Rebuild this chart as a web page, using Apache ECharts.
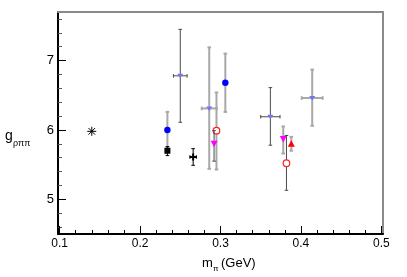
<!DOCTYPE html>
<html><head><meta charset="utf-8">
<script src="https://cdn.jsdelivr.net/npm/echarts@6/dist/echarts.min.js"></script>
<style>html,body{margin:0;padding:0;background:#fff}#c{width:407px;height:277px}</style>
</head><body><div id="c"></div>
<script>
// Tick labels
const xTickLabels = [0.1, 0.2, 0.3, 0.4, 0.5];
const yTickLabels = [5, 6, 7];
// Each point: [m_pi (GeV), g_rho_pi_pi, errDown, errUp, xErr]
const physicalPoint = [[0.140, 5.98, 0, 0, 0]];
const blueCircles   = [[0.234, 6.00, 0.25, 0.26, 0], [0.306, 6.68, 0.42, 0.42, 0]];
const blackSquares  = [[0.234, 5.70, 0.07, 0.06, 0]];
const blackCrosses  = [[0.266, 5.61, 0.12, 0.12, 0.004]];
const lilacDark     = [[0.250, 6.78, 0.67, 0.67, 0.0085], [0.362, 6.19, 0.41, 0.42, 0.012]];
const lilacLight    = [[0.286, 6.31, 0.87, 0.88, 0.0093], [0.414, 6.46, 0.40, 0.41, 0.013]];
const redOpenLight  = [[0.295, 5.99, 0.56, 0.55, 0]];
const redOpenDark   = [[0.382, 5.52, 0.39, 0.40, 0]];
const magentaDark   = [[0.292, 5.80, 0.25, 0.19, 0]];
const magentaLight  = [[0.378, 5.87, 0.21, 0.18, 0]];
const redFilled     = [[0.388, 5.80, 0.10, 0.10, 0]];

const X_MIN = 0.098, X_MAX = 0.502, Y_MIN = 4.5, Y_MAX = 7.7;
const FONT = 'Liberation Sans, Arial, Helvetica, sans-serif';

function minorTicks(lo, hi, step, majors) {
  const out = [];
  for (let i = Math.ceil(lo / step - 1e-9); i * step <= hi + 1e-9; i++) {
    const v = Math.round(i * step * 1000) / 1000;
    if (!majors.some(m => Math.abs(m - v) < 1e-6)) out.push(v);
  }
  return out;
}
const xMinor = minorTicks(0.1, 0.5, 0.02, xTickLabels);
const yMinor = minorTicks(4.6, 7.6, 0.2, yTickLabels);

const DARK = {color: '#4a4a4a', width: 1};
const LIGHT = {color: '#a8a8a8', width: 2};

function markerShape(kind, p) {
  const [cx, cy] = p;
  switch (kind) {
    case 'asterisk': {
      const r = 4.5, d = 3.3;
      return [[-r,0,r,0],[0,-r,0,r],[-d,-d,d,d],[-d,d,d,-d]].map(s => ({
        type: 'line', shape: {x1: cx+s[0], y1: cy+s[1], x2: cx+s[2], y2: cy+s[3]},
        style: {stroke: '#000', lineWidth: 1}
      }));
    }
    case 'blueCircle':
      return [{type: 'circle', shape: {cx, cy, r: 3.2}, style: {fill: '#0000ff'}}];
    case 'square':
      return [{type: 'rect', shape: {x: cx-3, y: cy-3, width: 6, height: 6}, style: {fill: '#000'}}];
    case 'plus':
      return [
        {type: 'rect', shape: {x: cx-3.5, y: cy-1, width: 7, height: 2}, style: {fill: '#000'}},
        {type: 'rect', shape: {x: cx-1, y: cy-3.5, width: 2, height: 7}, style: {fill: '#000'}}
      ];
    case 'lilac':
      return [{type: 'polygon', shape: {points: [[cx-3,cy-2],[cx+3,cy-2],[cx,cy+2.5]]}, style: {fill: '#7474f4'}}];
    case 'redOpen':
      return [{type: 'circle', shape: {cx, cy, r: 3.3}, style: {fill: '#fff', stroke: '#ff2020', lineWidth: 1.2}}];
    case 'magenta':
      return [{type: 'polygon', shape: {points: [[cx-3.5,cy-3],[cx+3.5,cy-3],[cx,cy+3.5]]}, style: {fill: '#ff00ff'}}];
    case 'redTri':
      return [{type: 'polygon', shape: {points: [[cx-3.5,cy+3],[cx+3.5,cy+3],[cx,cy-3.5]]}, style: {fill: '#ff0000'}}];
  }
  return [];
}

function makeSeries(name, data, marker, err) {
  return {
    name, type: 'custom', coordinateSystem: 'cartesian2d', xAxisIndex: 0, yAxisIndex: 0,
    data, encode: {x: 0, y: 1}, clip: false,
    renderItem(params, api) {
      const x = api.value(0), y = api.value(1), ed = api.value(2), eu = api.value(3), ex = api.value(4);
      const p = api.coord([x, y]);
      const ch = [];
      const ls = {stroke: err ? err.color : '#000', lineWidth: err ? err.width : 1};
      if (ed || eu) {
        const t = api.coord([x, y + eu]), b = api.coord([x, y - ed]);
        ch.push({type: 'line', shape: {x1: p[0], y1: t[1], x2: p[0], y2: b[1]}, style: ls});
        ch.push({type: 'line', shape: {x1: p[0]-1.8, y1: t[1], x2: p[0]+1.8, y2: t[1]}, style: ls});
        ch.push({type: 'line', shape: {x1: p[0]-1.8, y1: b[1], x2: p[0]+1.8, y2: b[1]}, style: ls});
      }
      if (ex) {
        const l = api.coord([x - ex, y]), r = api.coord([x + ex, y]);
        ch.push({type: 'line', shape: {x1: l[0], y1: p[1], x2: r[0], y2: p[1]}, style: ls});
        ch.push({type: 'line', shape: {x1: l[0], y1: p[1]-1.8, x2: l[0], y2: p[1]+1.8}, style: ls});
        ch.push({type: 'line', shape: {x1: r[0], y1: p[1]-1.8, x2: r[0], y2: p[1]+1.8}, style: ls});
      }
      return {type: 'group', children: ch.concat(markerShape(marker, p))};
    }
  };
}

const chart = echarts.init(document.getElementById('c'), null, {renderer: 'canvas'});
const noAxisParts = {axisLabel: {show: false}, splitLine: {show: false}};
chart.setOption({
  animation: false,
  backgroundColor: '#fff',
  grid: {left: 58, right: 24, top: 12, bottom: 43},
  xAxis: [
    {type: 'value', min: X_MIN, max: X_MAX, position: 'bottom',
     axisLine: {lineStyle: {color: '#000', width: 2}},
     axisTick: {inside: true, length: 8, customValues: xTickLabels, lineStyle: {color: '#000', width: 1}},
     axisLabel: {customValues: xTickLabels, margin: 4, fontSize: 12, color: '#000', fontFamily: FONT,
                 formatter: v => v.toFixed(1)},
     splitLine: {show: false}},
    Object.assign({type: 'value', min: X_MIN, max: X_MAX, position: 'bottom',
     axisLine: {show: false},
     axisTick: {inside: true, length: 4, customValues: xMinor, lineStyle: {color: '#000', width: 1}}}, noAxisParts),
    Object.assign({type: 'value', min: X_MIN, max: X_MAX, position: 'top',
     axisLine: {lineStyle: {color: '#8a8a8a', width: 2}}, axisTick: {show: false}}, noAxisParts)
  ],
  yAxis: [
    {type: 'value', min: Y_MIN, max: Y_MAX, position: 'left',
     axisLine: {lineStyle: {color: '#000', width: 2}},
     axisTick: {inside: true, length: 8, customValues: yTickLabels, lineStyle: {color: '#000', width: 1}},
     axisLabel: {customValues: yTickLabels, margin: 4, fontSize: 13, color: '#000', fontFamily: FONT},
     splitLine: {show: false}},
    Object.assign({type: 'value', min: Y_MIN, max: Y_MAX, position: 'left',
     axisLine: {show: false},
     axisTick: {inside: true, length: 4, customValues: yMinor, lineStyle: {color: '#555', width: 1}}}, noAxisParts),
    Object.assign({type: 'value', min: Y_MIN, max: Y_MAX, position: 'right',
     axisLine: {lineStyle: {color: '#8a8a8a', width: 2}}, axisTick: {show: false}}, noAxisParts)
  ],
  series: [
    makeSeries('physical', physicalPoint, 'asterisk', null),
    makeSeries('lilacDark', lilacDark, 'lilac', DARK),
    makeSeries('lilacLight', lilacLight, 'lilac', LIGHT),
    makeSeries('blueCircles', blueCircles, 'blueCircle', LIGHT),
    makeSeries('blackSquares', blackSquares, 'square', {color: '#000', width: 1}),
    makeSeries('blackCrosses', blackCrosses, 'plus', {color: '#000', width: 1}),
    makeSeries('redOpenLight', redOpenLight, 'redOpen', LIGHT),
    makeSeries('redOpenDark', redOpenDark, 'redOpen', DARK),
    makeSeries('magentaDark', magentaDark, 'magenta', DARK),
    makeSeries('magentaLight', magentaLight, 'magenta', LIGHT),
    makeSeries('redFilled', redFilled, 'redTri', LIGHT)
  ],
  graphic: [
    {type: 'text', left: 5, top: 129, style: {text: 'g', font: '14px ' + FONT, fill: '#000'}},
    {type: 'text', left: 13, top: 139, style: {text: 'ρππ', font: '9px ' + FONT, fill: '#000'}},
    {type: 'text', left: 202, top: 257, style: {text: 'm', font: '13px ' + FONT, fill: '#000'}},
    {type: 'text', left: 213, top: 265, style: {text: 'π', font: '8px ' + FONT, fill: '#000'}},
    {type: 'text', left: 221, top: 257, style: {text: '(GeV)', font: '13px ' + FONT, fill: '#000'}}
  ]
});
</script></body></html>
